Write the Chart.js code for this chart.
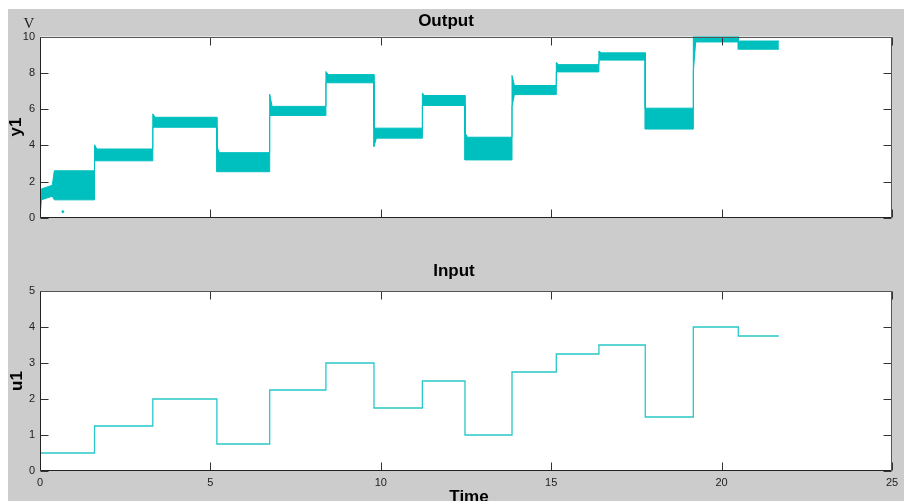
<!DOCTYPE html>
<html>
<head>
<meta charset="utf-8">
<script src="https://cdn.jsdelivr.net/npm/chart.js@4.4.1/dist/chart.umd.min.js"></script>
<style>
html, body { margin: 0; padding: 0; background: #fff; width: 904px; height: 501px; overflow: hidden; }
#fig { position: absolute; left: 8px; top: 9px; width: 896px; height: 492px; background: #cccccc; }
canvas { position: absolute; left: 0; }
.lbl { position: absolute; font-family: "Liberation Sans", Arial, sans-serif; font-weight: bold; font-size: 17px;
       color: #000; line-height: 1; white-space: nowrap; transform: translate(-50%, -50%); }
.rot { transform: translate(-50%, -50%) rotate(-90deg); }
.unit { font-family: "Liberation Serif", "Times New Roman", serif; font-weight: normal; font-size: 15px; color: #222; }
</style>
</head>
<body>
<div id="fig"></div>
<canvas id="outChart" width="904" height="240" style="top:0"></canvas>
<canvas id="inChart" width="904" height="261" style="top:240px"></canvas>
<div class="lbl" style="left:446px;top:19.5px">Output</div>
<div class="lbl" style="left:454px;top:270px">Input</div>
<div class="lbl" style="left:469px;top:496px">Time</div>
<div class="lbl rot" style="left:14.5px;top:127px">y1</div>
<div class="lbl rot" style="left:15.8px;top:381px">u1</div>
<div class="lbl unit" style="left:29px;top:23px">V</div>
<script>
// switching instants (s) and the input level held after each one
var stepTimes = [0, 1.6, 3.31, 5.19, 6.74, 8.39, 9.80, 11.22, 12.47, 13.85, 15.15, 16.40, 17.76, 19.17, 20.49, 21.68];
var inputLevels = [0.5, 1.25, 2.0, 0.75, 2.25, 3.0, 1.75, 2.5, 1.0, 2.75, 3.25, 3.5, 1.5, 4.0, 3.75];

// noisy output: upper / lower edge of the noise band in each segment
var outHigh = [2.6, 3.8, 5.55, 3.6, 6.15, 7.9, 4.95, 6.75, 4.45, 7.3, 8.45, 9.1, 6.05, 10.0, 9.75];
var outLow  = [1.0, 3.15, 5.0, 2.55, 5.65, 7.45, 4.4, 6.2, 3.2, 6.8, 8.05, 8.7, 4.9, 9.7, 9.3];
// overshoot / undershoot right after a switch (null = none)
var outSpikeHigh = [null, 4.03, 5.74, 3.94, 6.82, 8.07, null, 6.88, 4.7, 7.85, 8.57, 9.2, null, null, null];
var outSpikeLow  = [null, null, null, null, null, null, 3.94, null, null, 6.14, null, null, null, 8.07, null];
// start-up transient of the first segment
var riseTimes = [0, 0.04, 0.36, 0.42];
var riseHigh  = [0, 1.6, 1.8, 2.6];
var riseLow   = [0, 1.0, 1.2, 1.0];
var strayPoint = [{ x: 0.67, y: 0.35 }];

var xTicks = [0, 5, 10, 15, 20, 25];
var cyan = 'rgb(0,191,191)';

function envelope(levels, spikes, rise) {
    var pts = riseTimes.map(function (t, k) { return { x: t, y: rise[k] }; });
    for (var i = 0; i < levels.length; i++) {
        if (i > 0) {
            pts.push({ x: stepTimes[i], y: spikes[i] != null ? spikes[i] : levels[i] });
            pts.push({ x: stepTimes[i] + 0.07, y: levels[i] });
        }
        pts.push({ x: stepTimes[i + 1], y: levels[i] });
    }
    return pts;
}

var inputPoints = inputLevels.map(function (v, i) { return { x: stepTimes[i], y: v }; });
inputPoints.push({ x: stepTimes[stepTimes.length - 1], y: inputLevels[inputLevels.length - 1] });

Chart.defaults.font.family = '"Liberation Sans", Arial, sans-serif';
Chart.defaults.font.size = 11;
Chart.defaults.color = '#222';

// white plot box, inward ticks on all four sides, frame
var framePlugin = {
    id: 'frame',
    beforeDraw: function (chart) {
        var a = chart.chartArea, ctx = chart.ctx;
        ctx.save();
        ctx.fillStyle = '#fff';
        ctx.fillRect(a.left, a.top, a.right - a.left, a.bottom - a.top);
        ctx.restore();
    },
    afterDraw: function (chart) {
        var a = chart.chartArea, ctx = chart.ctx;
        var L = Math.round(a.left) + 0.5, R = Math.round(a.right) - 0.5;
        var T = Math.round(a.top) + 0.5, B = Math.round(a.bottom) - 0.5;
        var xs = chart.scales.x, ys = chart.scales.y;
        ctx.save();
        ctx.lineWidth = 1;
        ctx.strokeStyle = '#333';
        ctx.beginPath();
        xs.ticks.forEach(function (t) {
            var px = Math.round(xs.getPixelForValue(t.value)) + 0.5;
            ctx.moveTo(px, B); ctx.lineTo(px, B - 8);
            ctx.moveTo(px, T); ctx.lineTo(px, T + 8);
        });
        ys.ticks.forEach(function (t) {
            var py = Math.round(ys.getPixelForValue(t.value)) + 0.5;
            ctx.moveTo(L, py); ctx.lineTo(L + 8, py);
            ctx.moveTo(R, py); ctx.lineTo(R - 8, py);
        });
        ctx.stroke();
        ctx.strokeStyle = '#555';
        ctx.beginPath();
        ctx.moveTo(L, T); ctx.lineTo(R, T); ctx.lineTo(R, B);
        ctx.stroke();
        ctx.strokeStyle = '#222';
        ctx.beginPath();
        ctx.moveTo(L, T); ctx.lineTo(L, B); ctx.lineTo(R, B);
        ctx.stroke();
        ctx.restore();
    }
};

function xScale(showLabels) {
    return {
        type: 'linear', min: 0, max: 25,
        afterBuildTicks: function (s) { s.ticks = xTicks.map(function (v) { return { value: v }; }); },
        ticks: { display: showLabels, maxRotation: 0, autoSkip: false, padding: 5 },
        grid: { display: false, drawTicks: false },
        border: { display: false },
        afterFit: function (s) { s.height = showLabels ? 30 : 0; }
    };
}

function yScale(max, step) {
    return {
        type: 'linear', min: 0, max: max,
        ticks: { stepSize: step, padding: 5 },
        grid: { display: false, drawTicks: false },
        border: { display: false },
        afterFit: function (s) { s.width = 40; }
    };
}

var common = {
    responsive: false,
    animation: false,
    devicePixelRatio: 1,
    plugins: { legend: { display: false }, tooltip: { enabled: false } },
    elements: { point: { radius: 0 }, line: { tension: 0 } }
};

new Chart(document.getElementById('outChart'), {
    type: 'line',
    data: {
        datasets: [
            { data: envelope(outHigh, outSpikeHigh, riseHigh), borderColor: cyan, borderWidth: 1,
              backgroundColor: cyan, fill: '+1' },
            { data: envelope(outLow, outSpikeLow, riseLow), borderColor: cyan, borderWidth: 1, fill: false },
            { data: strayPoint, showLine: false, pointRadius: 1, pointBackgroundColor: cyan, borderColor: cyan }
        ]
    },
    options: Object.assign({}, common, {
        layout: { padding: { top: 36.5, right: 12, bottom: 22, left: 0 } },
        scales: { x: xScale(false), y: yScale(10, 2) }
    }),
    plugins: [framePlugin]
});

new Chart(document.getElementById('inChart'), {
    type: 'line',
    data: {
        datasets: [
            { data: inputPoints, stepped: 'before', borderColor: 'rgb(40,200,200)', borderWidth: 1.3, fill: false }
        ]
    },
    options: Object.assign({}, common, {
        layout: { padding: { top: 51, right: 12, bottom: 0, left: 0 } },
        scales: { x: xScale(true), y: yScale(5, 1) }
    }),
    plugins: [framePlugin]
});
</script>
</body>
</html>
